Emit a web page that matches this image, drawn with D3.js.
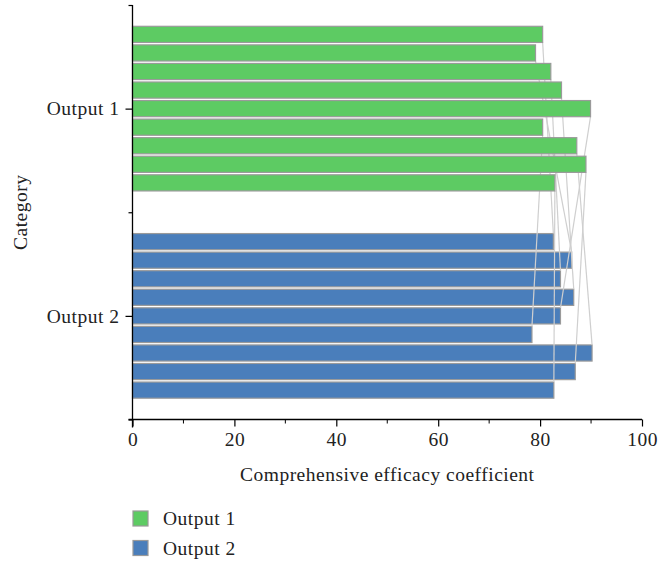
<!DOCTYPE html>
<html>
<head>
<meta charset="utf-8">
<script src="https://cdn.jsdelivr.net/npm/d3@7/dist/d3.min.js"></script>
<style>
  html, body { margin: 0; padding: 0; background: #fff; }
  svg text { font-family: "Liberation Serif", "Times New Roman", serif; fill: #222; letter-spacing: 0.5px; }
</style>
</head>
<body>
<svg id="chart" width="659" height="563"></svg>
<script>
// ---- data ----
const categories = ["Output 1", "Output 2"];
const output1Values = [80.5, 79.1, 82.1, 84.2, 89.9, 80.5, 87.2, 89.0, 82.9];
const output2Values = [82.6, 86.2, 84.0, 86.6, 84.0, 78.4, 90.2, 86.9, 82.7];
const xTicks = [0, 20, 40, 60, 80, 100];
const xMinorTicks = [10, 30, 50, 70, 90];
const seriesNames = ["Output 1", "Output 2"];
const seriesColors = ["#5dcb63", "#4a7ebb"];

const svg = d3.select("#chart");
const plotLeft = 132.5, plotRight = 642, plotTop = 5, plotBottom = 419.5;
const fs = 19.5;

const x = d3.scaleLinear().domain([0, 100]).range([plotLeft, plotRight]);
// categorical positions on a linear axis: Output 1 at 3, Output 2 at 1
const yPos = d3.scaleLinear().domain([0, 4]).range([plotBottom, plotTop]);
const catValue = { "Output 1": 3, "Output 2": 1 };
const halfGroup = (yPos(0) - yPos(1)) * 0.806;
const sub = d3.scaleBand().domain(d3.range(9)).range([-halfGroup, halfGroup])
  .paddingInner(0.13).paddingOuter(0.065);

const series = [
  { name: "Output 1", values: output1Values, color: seriesColors[0] },
  { name: "Output 2", values: output2Values, color: seriesColors[1] }
];

function drawBars(s) {
  const c = yPos(catValue[s.name]);
  svg.append("g").selectAll("rect").data(s.values).join("rect")
    .attr("x", x(0))
    .attr("y", (d, i) => c + sub(i))
    .attr("width", d => x(d) - x(0))
    .attr("height", sub.bandwidth())
    .attr("fill", s.color)
    .attr("stroke", "#9a9a9a")
    .attr("stroke-width", 1.2);
}

// draw order: Output 2 bars, connect lines, Output 1 bars
drawBars(series[1]);

const c1 = yPos(catValue["Output 1"]);
const c2 = yPos(catValue["Output 2"]);
svg.append("g").selectAll("line").data(d3.range(9)).join("line")
  .attr("x1", i => x(output1Values[i]))
  .attr("y1", i => c1 + sub(i) + sub.bandwidth())
  .attr("x2", i => x(output2Values[i]))
  .attr("y2", i => c2 + sub(i))
  .attr("stroke", "#cfcfcf")
  .attr("stroke-width", 1.2);

drawBars(series[0]);

// ---- axes ----
const xAxis = svg.append("g").attr("transform", `translate(0,${plotBottom})`)
  .call(d3.axisBottom(x).tickValues(xTicks).tickSize(7).tickPadding(6));
xAxis.append("g").selectAll("line").data(xMinorTicks).join("line")
  .attr("x1", d => x(d)).attr("x2", d => x(d))
  .attr("y1", 0).attr("y2", 4).attr("stroke", "#000");
xAxis.select(".domain").attr("d", `M${plotLeft - 4},0H${plotRight}`).attr("stroke-width", 1.3);
xAxis.selectAll(".tick line").attr("stroke-width", 1.2);
xAxis.selectAll("text").attr("font-size", fs).attr("font-family", "Liberation Serif");

const yAxis = svg.append("g").attr("transform", `translate(${plotLeft},0)`)
  .call(d3.axisLeft(yPos).tickValues([0, 1, 2, 3, 4]).tickSize(5).tickPadding(8)
    .tickFormat(d => d === 3 ? categories[0] : d === 1 ? categories[1] : ""));
yAxis.select(".domain").attr("d", `M0,${plotTop}V${plotBottom + 8}`).attr("stroke-width", 1.3);
yAxis.selectAll(".tick line").attr("x2", d => (d === 1 || d === 3) ? -7 : -4).attr("stroke-width", 1.2);
yAxis.selectAll("text").attr("font-size", fs).attr("font-family", "Liberation Serif");

svg.selectAll(".tick text").attr("fill", "#222");

// axis titles
svg.append("text")
  .attr("x", (plotLeft + plotRight) / 2).attr("y", 481)
  .attr("text-anchor", "middle").attr("font-size", fs)
  .text("Comprehensive efficacy coefficient");

svg.append("text")
  .attr("transform", `translate(27,${yPos(2)}) rotate(-90)`)
  .attr("text-anchor", "middle").attr("font-size", fs)
  .text("Category");

// legend
const legend = svg.append("g");
series.forEach((s, i) => {
  const ly = 511 + i * 29.5;
  legend.append("rect").attr("x", 133).attr("y", ly).attr("width", 15).attr("height", 15)
    .attr("fill", s.color).attr("stroke", "#9a9a9a").attr("stroke-width", 1.2);
  legend.append("text").attr("x", 163).attr("y", ly + 14)
    .attr("font-size", fs).text(seriesNames[i]);
});
</script>
</body>
</html>
